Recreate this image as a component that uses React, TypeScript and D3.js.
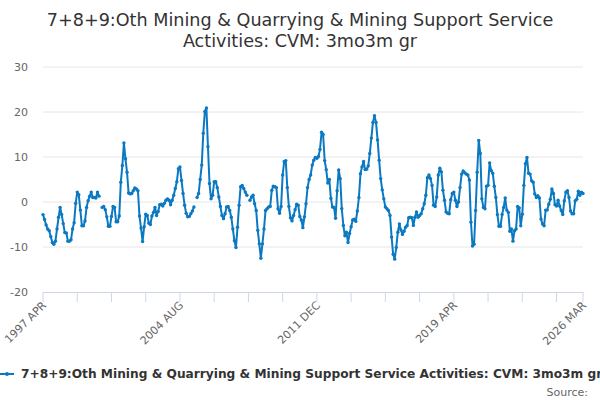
import React from 'react';
import * as d3 from 'd3';

// 3mo3m growth, monthly from 1997 APR to 2026 MAR (null = missing month)
const values: (number | null)[] = [
  -2.8, -3.9, -5.1, -6.0, -6.4, -7.7, -9.0, -9.4, -8.7, -6.0,
  -3.4, -1.2, -2.8, -4.8, -6.8, -6.9, -8.7, -8.7, -8.4, -6.0,
  -4.6, -0.3, 2.2, 1.6, -1.8, -5.3, -5.3, -4.2, -1.2, 0.3,
  1.3, 2.2, 1.0, 1.0, 0.9, 2.2, 1.3, null, -1.2, -1.0,
  -1.7, -3.3, -5.4, -5.4, -3.2, -1.0, -1.2, -4.4, -4.4, -3.1,
  4.4, 8.1, 13.1, 9.6, 6.6, 2.0, 1.8, 1.9, 2.5, 3.1,
  2.9, 2.5, -3.1, -5.8, -8.8, -5.5, -2.7, -3.0, -4.7, -5.0,
  -3.1, -2.3, -1.2, -3.0, -2.1, -0.6, -0.5, -0.9, -0.3, 0.4,
  0.7, 0.4, -0.6, 0.4, 1.5, 3.0, 4.5, 7.4, 7.8, 4.8,
  1.9, -0.7, -2.5, -3.3, -3.2, -2.6, -2.0, -1.1, null, 1.0,
  1.9, 5.0, 8.2, 15.3, 20.1, 20.9, 12.3, 4.1, 0.7, 1.5,
  4.5, 4.5, 3.2, 1.1, -1.0, -3.0, -3.7, -2.6, -1.1, -1.0,
  -1.9, -3.4, -6.0, -8.6, -10.1, -5.6, -0.7, 3.4, 3.7, 3.0,
  2.2, 1.5, null, 0.4, 1.1, 1.5, -0.4, -1.9, -6.3, -9.3,
  -12.5, -9.3, -6.0, -1.9, -1.5, -1.1, -1.0, 2.6, 3.5, 3.4,
  3.2, -1.5, -2.5, -1.0, 6.0, 9.0, 9.2, 3.2, -1.0, -3.5,
  -4.2, -3.0, -1.7, -0.5, -0.7, -3.2, -4.0, -5.7, -3.3, -0.4,
  3.2, 5.0, 6.0, 8.2, 9.3, 9.9, 9.7, 10.1, 11.7, 15.5,
  15.0, 9.2, 7.2, 4.2, 5.0, 0.8, -1.1, -1.2, -3.6, 2.5,
  7.1, 5.2, -1.5, -5.2, -7.5, -6.7, -9.0, -7.0, -5.5, -4.0,
  -3.8, -4.3, -2.0, 1.0, 6.3, 7.8, 9.0, 7.2, 7.3, 8.0,
  10.8, 14.2, 17.7, 19.2, 17.7, 13.8, 9.3, 5.2, 2.7, 0.7,
  -1.1, -1.5, -1.9, -3.0, -7.8, -11.6, -12.7, -10.1, -6.7, -4.9,
  -6.2, -7.2, -6.5, -5.6, -5.2, -3.5, -3.4, -3.5, -5.2, -3.4,
  -2.2, -3.4, -3.0, -2.6, -1.5, -0.4, 1.5, 5.4, 6.0, 5.2,
  3.7, -0.7, -1.0, 1.1, 6.0, 7.5, 6.7, 2.6, 0.4, -2.2,
  -2.5, -2.6, 0.5, 1.9, 2.2, 0.4, -1.0, 0.0, 3.2, 6.2,
  6.9, 6.5, 6.2, 6.0, 4.9, -4.5, -9.8, -9.4, -1.9, 6.6,
  13.7, 10.8, 0.7, -1.2, -1.5, 3.5, 3.7, 8.7, 7.0, 6.4,
  3.5, 1.0, -2.8, -5.4, -5.4, -2.8, -1.2, 0.9, -1.8, -2.3,
  -6.5, -6.0, -8.7, -6.4, -6.0, -1.0, -1.3, -5.3, -2.7, 3.7,
  8.5, 9.9, 6.4, 6.2, 4.7, 4.4, 1.8, 1.0, 1.4, 0.9,
  -3.8, -4.9, -5.3, -1.8, -1.8, -0.5, 0.6, 2.9, 1.9, -0.6,
  -0.9, 0.4, -0.9, -1.9, -2.8, 0.3, 2.2, 2.5, 1.0, -2.0,
  -2.6, -2.6, 0.3, 0.6, 2.4, 1.5, 2.2, 1.9,
];

const monthNames = ['JAN', 'FEB', 'MAR', 'APR', 'MAY', 'JUN', 'JUL', 'AUG', 'SEP', 'OCT', 'NOV', 'DEC'];
const categories = values.map((_, i) => {
  const m = 3 + i;
  return `${1997 + Math.floor(m / 12)} ${monthNames[m % 12]}`;
});

const yTicks = [30, 20, 10, 0, -10, -20];
const tickStep = 22;
const labelStep = 88;

const title1 = '7+8+9:Oth Mining & Quarrying & Mining Support Service';
const title2 = 'Activities: CVM: 3mo3m gr';
const seriesName = '7+8+9:Oth Mining & Quarrying & Mining Support Service Activities: CVM: 3mo3m gr';

const W = 600;
const H = 400;
const left = 43;
const right = 583;
const top = 67;
const bottom = 292;
const blue = '#0b79c2';
const font = '"DejaVu Sans", sans-serif';

export default function App() {
  const last = values.length - 1;
  const x = d3.scaleLinear().domain([0, last]).range([left, right]);
  const y = d3.scaleLinear().domain([-20, 30]).range([bottom, top]);

  const line = d3.line<number | null>()
    .defined(d => d !== null)
    .x((d, i) => x(i))
    .y(d => y(d as number));

  const ticks = d3.range(0, last, tickStep).concat([last]);
  const labelled = d3.range(0, last, labelStep).concat([last]);

  return (
    <svg width={W} height={H} style={{ position: 'absolute', left: 0, top: 0, fontFamily: font }}>
      <rect width={W} height={H} fill="#fff" />
      <text x={W / 2} y={26} textAnchor="middle" fontSize={17.6} fill="#333">
        <tspan x={W / 2}>{title1}</tspan>
        <tspan x={W / 2} dy={21}>{title2}</tspan>
      </text>

      {yTicks.map(t => (
        <g key={t}>
          {t !== -20 && <line x1={left} x2={right} y1={y(t)} y2={y(t)} stroke="#e6e6e6" />}
          <text x={28} y={y(t) + 4} textAnchor="end" fontSize={11} fill="#666">{t}</text>
        </g>
      ))}

      <line x1={left} x2={right} y1={bottom + 0.5} y2={bottom + 0.5} stroke="#ccd6eb" />
      {ticks.map(t => (
        <line key={t} x1={x(t)} x2={x(t)} y1={bottom} y2={bottom + 10} stroke="#ccd6eb" />
      ))}
      {labelled.map(t => (
        <text key={t} transform={`translate(${x(t) + 4},${bottom + 14}) rotate(-45)`}
          textAnchor="end" fontSize={11} fill="#666">{categories[t]}</text>
      ))}

      <path d={line(values) || ''} fill="none" stroke={blue} strokeWidth={2} strokeLinejoin="round" />
      {values.map((v, i) => v === null ? null : (
        <circle key={i} cx={x(i)} cy={y(v)} r={1.7} fill={blue} />
      ))}

      <g>
        <line x1={0} x2={14} y1={374} y2={374} stroke={blue} strokeWidth={2} />
        <circle cx={7} cy={374} r={2} fill={blue} />
        <text x={21} y={378} fontSize={12.2} fontWeight="bold" fill="#333">{seriesName}</text>
      </g>
      <text x={588} y={396} textAnchor="end" fontSize={11} fill="#666">Source:</text>
    </svg>
  );
}
